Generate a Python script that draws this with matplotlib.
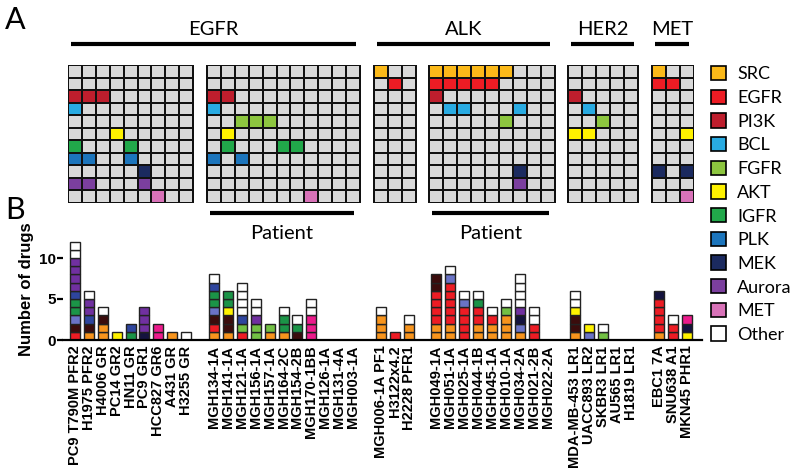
import numpy as np
import matplotlib.pyplot as plt
from matplotlib.colors import to_rgb
from matplotlib.patches import Patch

# heatmap targets (rows) and their colours
targets = ['SRC', 'EGFR', 'PI3K', 'BCL', 'FGFR', 'AKT', 'IGFR', 'PLK', 'MEK', 'Aurora', 'MET']
target_colors = ['#fbb919', '#ed1c24', '#be1e2d', '#29abe2', '#8dc63f', '#fff200',
                 '#21a84a', '#1c75bc', '#1b2a5f', '#7b3f9e', '#d872b8']
cell_gray = '#d9d9d9'

# colours used in the stacked bars
bar_palette = {'r': '#ed1c24', 'o': '#f7941d', 'br': '#3b0c0c', 'pw': '#6a73c6',
               'g': '#1b9447', 'b': '#2e459e', 'p': '#7030a0', 'w': '#ffffff',
               'y': '#fff200', 'm': '#ec1b8c', 'n': '#14133f', 'lg': '#72c044'}

# EGFR cell lines
egfr_lines = ['PC9 T790M PFR2', 'H1975 PFR2', 'H4006 GR', 'PC14 GR2', 'HN11 GR',
              'PC9 GR1', 'HCC827 GR6', 'A431 GR', 'H3255 GR']
egfr_lines_hits = [['PI3K', 'BCL', 'IGFR', 'PLK', 'Aurora'], ['PI3K', 'PLK', 'Aurora'],
                   ['PI3K'], ['AKT'], ['IGFR', 'PLK'], ['MEK', 'Aurora'], ['MET'], [], []]
egfr_lines_bars = [['r', 'br', 'pw', 'g', 'g', 'b', 'p', 'p', 'p', 'p', 'w', 'w'],
                   ['o', 'br', 'b', 'p', 'p', 'w'], ['o', 'o', 'br', 'w'], ['y'],
                   ['g', 'b'], ['n', 'p', 'p', 'p'], ['m', 'm'], ['o'], ['w']]

# EGFR patients
egfr_pts = ['MGH134-1A', 'MGH141-1A', 'MGH121-1A', 'MGH156-1A', 'MGH157-1A', 'MGH164-2C',
            'MGH154-2B', 'MGH170-1BB', 'MGH126-1A', 'MGH131-4A', 'MGH003-1A']
egfr_pts_hits = [['PI3K', 'BCL', 'PLK'], ['PI3K', 'AKT', 'IGFR'], ['FGFR', 'PLK'], ['FGFR'],
                 ['FGFR'], ['IGFR'], ['IGFR'], ['MET'], [], [], []]
egfr_pts_bars = [['o', 'r', 'br', 'pw', 'g', 'g', 'b', 'w'], ['o', 'br', 'br', 'y', 'g', 'g'],
                 ['r', 'lg', 'b', 'w', 'w', 'w', 'w'], ['lg', 'lg', 'p', 'w', 'w'],
                 ['o', 'lg'], ['o', 'g', 'g', 'w'], ['br', 'g', 'w'],
                 ['m', 'm', 'm', 'w', 'w'], [], [], []]

# ALK cell lines
alk_lines = ['MGH006-1A PF1', 'H3122x4.2', 'H2228 PFR1']
alk_lines_hits = [['SRC'], ['EGFR'], []]
alk_lines_bars = [['o', 'o', 'o', 'w'], ['r'], ['o', 'o', 'w']]

# ALK patients
alk_pts = ['MGH049-1A', 'MGH051-1A', 'MGH025-1A', 'MGH044-1B', 'MGH045-1A', 'MGH010-1A',
           'MGH034-2A', 'MGH021-2B', 'MGH022-2A']
alk_pts_hits = [['SRC', 'EGFR', 'PI3K'], ['SRC', 'EGFR', 'BCL'], ['SRC', 'EGFR', 'BCL'],
                ['SRC', 'EGFR'], ['SRC', 'EGFR'], ['SRC', 'FGFR'], ['BCL', 'MEK', 'Aurora'],
                [], []]
alk_pts_bars = [['o', 'o', 'r', 'r', 'r', 'r', 'br', 'br'],
                ['o', 'o', 'r', 'r', 'r', 'r', 'r', 'pw', 'w'],
                ['r', 'r', 'r', 'r', 'pw', 'w'], ['o', 'o', 'r', 'r', 'g', 'w'],
                ['o', 'o', 'r', 'w'], ['o', 'o', 'o', 'lg', 'w'],
                ['o', 'pw', 'n', 'p', 'w', 'w', 'w', 'w'], ['r', 'r', 'w', 'w'], []]

# HER2 cell lines
her2_lines = ['MDA-MB-453 LR1', 'UACC893 LR2', 'SKBR3 LR1', 'AU565 LR1', 'H1819 LR1']
her2_hits = [['PI3K', 'AKT'], ['BCL', 'AKT'], ['FGFR'], [], []]
her2_bars = [['o', 'br', 'br', 'y', 'w', 'w'], ['pw', 'y'], ['lg', 'w'], [], []]

# MET cell lines
met_lines = ['EBC1 7A', 'SNU638 A1', 'MKN45 PHR1']
met_hits = [['SRC', 'EGFR', 'MEK'], ['EGFR'], ['AKT', 'MEK', 'MET']]
met_bars = [['o', 'r', 'r', 'r', 'r', 'n'], ['r', 'r', 'w'], ['y', 'n', 'm']]

groups = [(egfr_lines, egfr_lines_hits, egfr_lines_bars),
          (egfr_pts, egfr_pts_hits, egfr_pts_bars),
          (alk_lines, alk_lines_hits, alk_lines_bars),
          (alk_pts, alk_pts_hits, alk_pts_bars),
          (her2_lines, her2_hits, her2_bars),
          (met_lines, met_hits, met_bars)]
headers = [('EGFR', 0, 1), ('ALK', 2, 3), ('HER2', 4, 4), ('MET', 5, 5)]
patient_groups = [1, 3]

calibri = ['Lato', 'DejaVu Sans']
arial = ['Liberation Sans', 'DejaVu Sans']

fig = plt.figure(figsize=(8, 4.76), dpi=100)
ax_b = fig.add_axes([63 / 800, 1 - 340 / 476, 639 / 800, 102.5 / 476])
ax_a = fig.add_axes([68 / 800, 1 - 203 / 476, 625.5 / 800, 138 / 476])
ax_b.set_facecolor('none')

# column offsets, one empty column between groups
starts = []
pos = 0
for labels, hits, bars in groups:
    starts.append(pos)
    pos += len(labels) + 1
total = pos - 1

# panel A heatmaps
for (labels, hits, bars), s in zip(groups, starts):
    n = len(labels)
    rgb = np.tile(to_rgb(cell_gray), (len(targets), n, 1))
    for j, col_hits in enumerate(hits):
        for t in col_hits:
            i = targets.index(t)
            rgb[i, j] = to_rgb(target_colors[i])
    xe = np.arange(s, s + n + 1)
    ye = np.arange(len(targets) + 1)
    ax_a.pcolormesh(xe, ye, rgb, edgecolors='#111111', linewidth=1.4)

ax_a.set_xlim(0, total)
ax_a.set_ylim(len(targets), 0)
ax_a.axis('off')

for name, g0, g1 in headers:
    x0 = starts[g0] + 0.2
    x1 = starts[g1] + len(groups[g1][0]) - 0.3
    ax_a.plot([x0, x1], [-1.68, -1.68], color='black', lw=3, clip_on=False,
              solid_capstyle='butt')
    ax_a.text((x0 + x1) / 2, -2.8, name, ha='center', va='center', fontsize=14.5,
              family=calibri)

for g in patient_groups:
    x0 = starts[g] + 0.2
    x1 = starts[g] + len(groups[g][0]) - 0.4
    ax_a.plot([x0, x1], [11.8, 11.8], color='black', lw=3, clip_on=False,
              solid_capstyle='butt')
    ax_a.text((x0 + x1) / 2, 13.4, 'Patient', ha='center', va='center', fontsize=14.5,
              family=calibri)

# panel B stacked bars
ticks = []
tick_labels = []
for (labels, hits, bars), s in zip(groups, starts):
    for j, stack in enumerate(bars):
        x = s + j + 0.5
        ticks.append(x)
        tick_labels.append(labels[j])
        for k, code in enumerate(stack):
            ax_b.bar(x, 1, bottom=k, width=0.72, color=bar_palette[code],
                     edgecolor='#222222', linewidth=1.0)

ax_b.set_xlim(-0.36, 45.6)
ax_b.set_ylim(0, 12.5)
for side in ['top', 'right', 'left']:
    ax_b.spines[side].set_visible(False)
ax_b.spines['bottom'].set_linewidth(1.6)
ax_b.set_yticks([0, 5, 10])
ax_b.tick_params(axis='y', length=4, width=1.6, pad=1)
ax_b.tick_params(axis='x', length=0, pad=4)
ax_b.set_xticks(ticks)
ax_b.set_xticklabels(tick_labels, rotation=90, fontsize=10.5, fontweight='bold',
                     family=arial)
for t in ax_b.get_yticklabels():
    t.set_fontsize(11)
    t.set_fontweight('bold')
    t.set_family(arial)
ax_b.set_ylabel('Number of drugs', fontsize=12, fontweight='bold', family=arial)
ax_b.yaxis.set_label_coords(-0.045, 0.5)

# legend
handles = [Patch(facecolor=c, edgecolor='black', linewidth=1.2, label=t)
           for t, c in zip(targets, target_colors)]
handles.append(Patch(facecolor='white', edgecolor='black', linewidth=1.2, label='Other'))
fig.legend(handles=handles, loc='upper left', bbox_to_anchor=(702 / 800, 1 - 57 / 476),
           frameon=False, handlelength=0.85, handleheight=0.85,
           handletextpad=0.6, labelspacing=0.4, borderpad=0,
           prop={'family': calibri, 'size': 13})

fig.text(15 / 800, 1 - 20 / 476, 'A', fontsize=22, ha='center', va='center', family=calibri)
fig.text(15 / 800, 1 - 210 / 476, 'B', fontsize=22, ha='center', va='center', family=calibri)

fig.savefig('out.png', dpi=100)
